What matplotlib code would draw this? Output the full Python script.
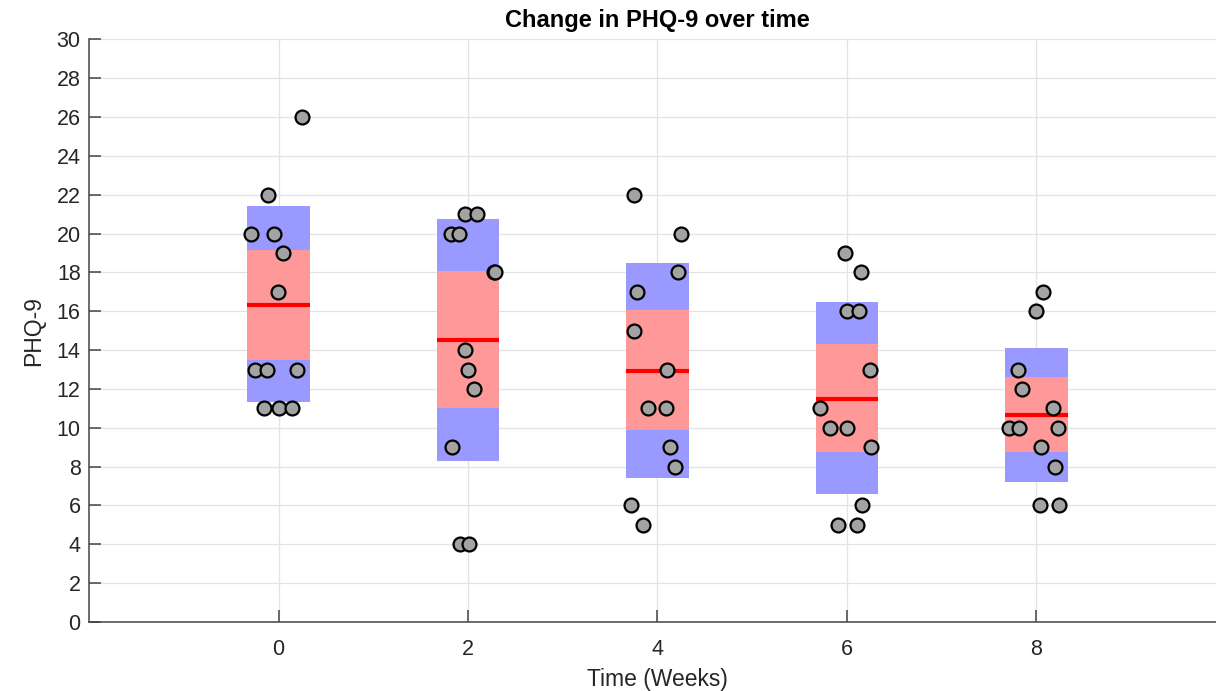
import numpy as np
import matplotlib
matplotlib.use("Agg")
import matplotlib.pyplot as plt

# Weeks on the x axis
weeks = [0, 2, 4, 6, 8]

# PHQ-9 scores per week, with their horizontal jitter
scores = [
    [26, 22, 20, 20, 19, 17, 13, 13, 13, 11, 11, 11],
    [21, 21, 20, 20, 18, 18, 14, 13, 12, 9, 4, 4],
    [22, 20, 18, 17, 15, 13, 11, 11, 9, 8, 6, 5],
    [19, 18, 16, 16, 13, 11, 10, 10, 9, 6, 5, 5],
    [17, 16, 13, 12, 11, 10, 10, 10, 9, 8, 6, 6],
]
jitter = [
    [0.25, -0.11, -0.29, -0.05, 0.05, -0.01, -0.25, -0.12, 0.19, -0.15, 0.0, 0.14],
    [-0.03, 0.10, -0.18, -0.09, 0.27, 0.29, -0.03, 0.0, 0.06, -0.17, -0.08, 0.01],
    [-0.25, 0.25, 0.22, -0.22, -0.25, 0.10, -0.10, 0.085, 0.13, 0.18, -0.28, -0.15],
    [-0.02, 0.15, 0.0, 0.13, 0.24, -0.28, -0.18, 0.0, 0.25, 0.16, -0.10, 0.11],
    [0.07, -0.01, -0.20, -0.15, 0.17, -0.29, -0.18, 0.23, 0.05, 0.20, 0.04, 0.24],
]

# mean, 95% CI band (pink) and SD band (blue)
means = [16.33, 14.5, 12.92, 11.5, 10.67]
ci_low = [13.5, 11.0, 9.9, 8.73, 8.73]
ci_high = [19.18, 18.09, 16.08, 14.31, 12.64]
sd_low = [11.33, 8.3, 7.4, 6.58, 7.23]
sd_high = [21.4, 20.77, 18.49, 16.46, 14.1]

plt.rcParams["font.family"] = ["Liberation Sans", "DejaVu Sans"]

fig = plt.figure(figsize=(12.16, 6.91), dpi=100)
ax = fig.add_axes([0.0732, 0.0999, 0.935, 0.843])

box_w = 0.66
ax.bar(weeks, np.subtract(sd_high, sd_low), bottom=sd_low, width=box_w,
       color="#9999ff", edgecolor="none", zorder=2)
ax.bar(weeks, np.subtract(ci_high, ci_low), bottom=ci_low, width=box_w,
       color="#ff9999", edgecolor="none", zorder=3)
ax.hlines(means, np.subtract(weeks, box_w / 2), np.add(weeks, box_w / 2),
          colors="#ff0000", linewidth=3, zorder=4)

for wk, vals, jit in zip(weeks, scores, jitter):
    ax.scatter(np.add(wk, jit), vals, s=100, facecolor="#a3a3a3",
               edgecolor="black", linewidth=1.6, zorder=5)

ax.set_xlim(-2, 10)
ax.set_ylim(0, 30)
ax.set_xticks(weeks)
ax.set_yticks(range(0, 31, 2))
ax.grid(True, color="#e3e3e3", linewidth=0.9, zorder=0)
ax.set_axisbelow(True)

for side in ("top", "right"):
    ax.spines[side].set_visible(False)
for side in ("left", "bottom"):
    ax.spines[side].set_color("#444444")
    ax.spines[side].set_linewidth(1.1)

ax.tick_params(direction="in", length=8.5, width=1.1, color="#444444",
               labelsize=15.5, labelcolor="#262626")
ax.tick_params(axis="x", pad=12)
ax.tick_params(axis="y", pad=6)

ax.set_title("Change in PHQ-9 over time", fontsize=17, fontweight="bold", pad=9)
ax.set_xlabel("Time (Weeks)", fontsize=16.5, color="#262626", labelpad=6)
ax.set_ylabel("PHQ-9", fontsize=16.5, color="#262626", labelpad=8)

fig.savefig("out.png", dpi=100)
